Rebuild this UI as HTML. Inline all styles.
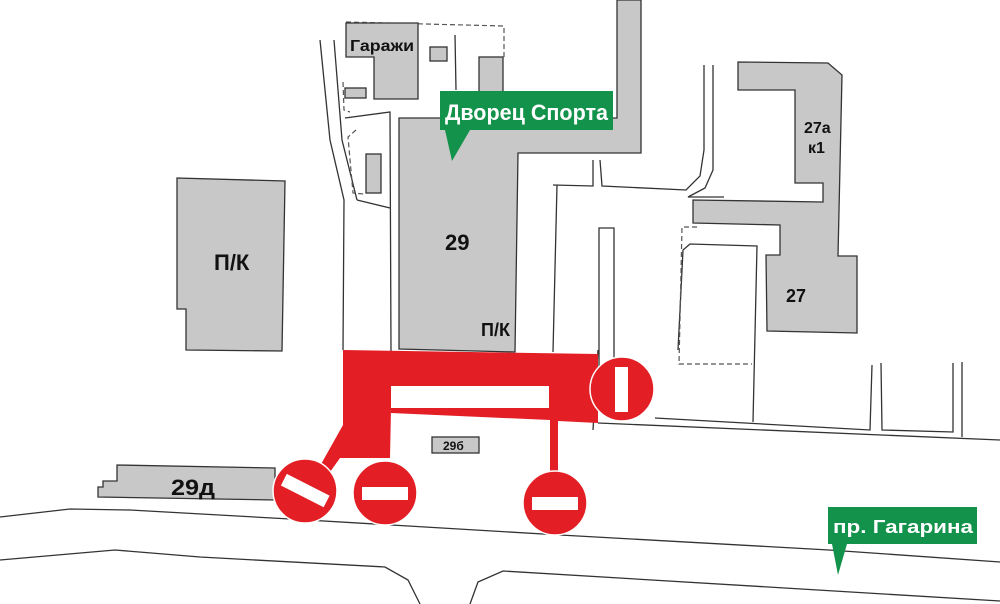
<!DOCTYPE html>
<html><head><meta charset="utf-8"><style>
html,body{margin:0;padding:0;background:#fff;}
svg{display:block;}
text{font-family:"Liberation Sans","DejaVu Sans",sans-serif;font-weight:bold;}
</style></head><body>
<svg width="1000" height="604" viewBox="0 0 1000 604" xmlns="http://www.w3.org/2000/svg">
<g fill="none" stroke="#333" stroke-width="1.3">
<path d="M320 40 L330 140 L344 200 L343 350"/>
<path d="M334 40 L342 140 L357 200"/>
<path d="M357 200 L390 208"/>
<path d="M345 118 L390 112 L391 351"/>
<path d="M455 35 L456 90"/>
<path d="M593 430 L598 350"/>
<path d="M557 185 L553 352"/>
<path d="M553 185 L593 186 L593 160"/>
<path d="M600 160 L602 186 L686 190 L700 176 L704 150 L704 65"/>
<path d="M713 65 L713 170 L705 188 L688 197 L724 197"/>
<path d="M678 350 L683 250 L690 244 L757 246 L753 422"/>
<path d="M599 228 L614 228 L614 366 L599 366 Z"/>
<path d="M655 418 L870 430 L872 365"/>
<path d="M881 363 L882 430 L953 432 L953 363"/>
<path d="M962 362 L962 437"/>
<path d="M598 423 L1000 440"/>
<path d="M0 517 L70 509 L130 510 L290 519 L560 535 L829 550 L1000 562"/>
<path d="M0 560 L115 550 L200 557 L385 567 L408 580 L420 604"/>
<path d="M470 604 L478 582 L503 571 L1000 601"/>
</g>
<g fill="none" stroke="#555" stroke-width="1.2" stroke-dasharray="5,3">
<path d="M346 22 L504 26 L504 57"/>
<path d="M343 82 L344 110 L350 112"/>
<path d="M356 130 L348 137 L353 193 L364 194"/>
<path d="M697 227 L682 227 L679 364 L752 364"/>
</g>
<g fill="#c8c8c8" stroke="#333" stroke-width="1.3">
<polygon points="177,178 285,181 282,351 186,350 186,309 177,309"/>
<polygon points="399,118 617,118 617,0 641,0 641,153 518,153 515,352 399,349"/>
<polygon points="346,23 418,23 418,99 374,99 374,57 346,57"/>
<rect x="430" y="47" width="17" height="14"/>
<rect x="479" y="57" width="24" height="36"/>
<rect x="345" y="88" width="21" height="10"/>
<rect x="366" y="154" width="15" height="39"/>
<polygon points="738,62 828,63 842,75 838,256 857,256 857,333 767,331 766,255 780,255 780,225 693,223 693,200 823,202 823,183 795,183 795,90 738,90"/>
<polygon points="117,465 275,468 275,500 98,497 98,487 103,487 103,481 117,481"/>
<rect x="432" y="437" width="47" height="16"/>
</g>
<g fill="#e31e24">
<polygon points="343,350 598,354 598,423 558,421 558,478 550,478 550,420 391,413 391,385 549,387 549,410 391,408 390,458 340,458 330,472 320,466 343,425"/>
</g>
<rect x="391" y="386" width="158" height="22" fill="#fff"/>
<g stroke="#fff" stroke-width="1.5" fill="#e31e24">
<circle cx="305" cy="491" r="32"/>
<circle cx="385" cy="493" r="32"/>
<circle cx="555" cy="503" r="32"/>
<circle cx="622" cy="389" r="32"/>
</g>
<g fill="#fff">
<rect x="281" y="484" width="48" height="13" transform="rotate(27 305 491)"/>
<rect x="362" y="487" width="46" height="13"/>
<rect x="532" y="497" width="46" height="13"/>
<rect x="615" y="367" width="13" height="45"/>
</g>
<polygon points="440,91 613,91 613,130 470,130 452,161 445,130 440,130" fill="#12924a"/>
<text x="445" y="120" font-size="22" fill="#fff" textLength="163" lengthAdjust="spacingAndGlyphs">Дворец Спорта</text>
<polygon points="828,507 977,507 977,544 847,544 838,575 832,544 828,544" fill="#12924a"/>
<text x="833" y="533" font-size="18" fill="#fff" textLength="140" lengthAdjust="spacingAndGlyphs">пр. Гагарина</text>
<g fill="#111">
<text x="214" y="270" font-size="22">П/К</text>
<text x="445" y="250" font-size="22">29</text>
<text x="481" y="336" font-size="18">П/К</text>
<text x="350" y="51" font-size="16" textLength="64" lengthAdjust="spacingAndGlyphs">Гаражи</text>
<text x="804" y="133" font-size="16">27а</text>
<text x="808" y="153" font-size="16">к1</text>
<text x="786" y="302" font-size="18">27</text>
<text x="171" y="495" font-size="22" textLength="44" lengthAdjust="spacingAndGlyphs">29д</text>
<text x="443" y="450" font-size="12">29б</text>
</g>
</svg>
</body></html>
